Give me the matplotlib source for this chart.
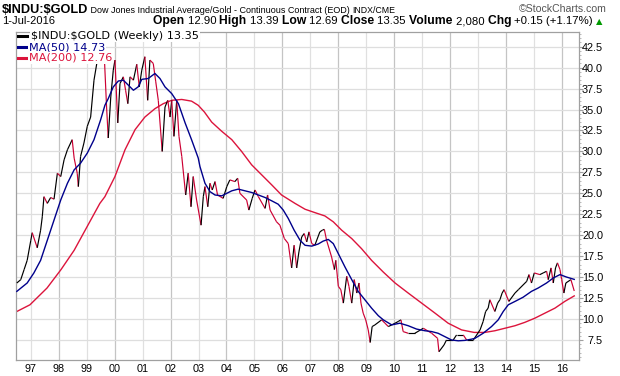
import numpy as np
import matplotlib.pyplot as plt
from matplotlib.collections import LineCollection
from matplotlib.lines import Line2D

# ----- Data -----
price_t = [1996.50, 1996.64, 1996.76, 1996.87, 1997.00, 1997.05, 1997.23, 1997.35, 1997.41, 1997.47,
           1997.59, 1997.71, 1997.83, 1997.95, 1998.07, 1998.19, 1998.31, 1998.48, 1998.55, 1998.66,
           1998.70, 1998.78, 1998.90, 1999.02, 1999.14, 1999.26, 1999.38, 1999.47, 1999.56, 1999.62,
           1999.71, 1999.77, 1999.86, 1999.95, 2000.01, 2000.11, 2000.19, 2000.31, 2000.39, 2000.47,
           2000.55, 2000.67, 2000.79, 2000.88, 2000.97, 2001.08, 2001.18, 2001.26, 2001.38, 2001.47,
           2001.56, 2001.70, 2001.80, 2001.90, 2001.98, 2002.04, 2002.12, 2002.22, 2002.30, 2002.40,
           2002.54, 2002.63, 2002.73, 2002.81, 2002.93, 2003.09, 2003.17, 2003.23, 2003.33, 2003.41,
           2003.49, 2003.59, 2003.68, 2003.88, 2004.01, 2004.12, 2004.30, 2004.40, 2004.48, 2004.72,
           2004.80, 2004.92, 2005.02, 2005.14, 2005.38, 2005.47, 2005.56, 2005.79, 2005.91, 2005.97,
           2006.07, 2006.21, 2006.33, 2006.42, 2006.51, 2006.59, 2006.69, 2006.78, 2006.87, 2006.95,
           2007.05, 2007.16, 2007.34, 2007.43, 2007.50, 2007.58, 2007.76, 2007.86, 2007.91, 2008.00,
           2008.09, 2008.18, 2008.30, 2008.38, 2008.48, 2008.57, 2008.66, 2008.74, 2008.81, 2008.89,
           2008.98, 2009.07, 2009.14, 2009.21, 2009.31, 2009.55, 2009.67, 2009.79, 2010.03, 2010.14,
           2010.24, 2010.32, 2010.50, 2010.74, 2011.04, 2011.34, 2011.55, 2011.60, 2011.78, 2011.87,
           2012.11, 2012.23, 2012.47, 2012.59, 2012.83, 2013.07, 2013.18, 2013.27, 2013.36, 2013.42,
           2013.60, 2013.70, 2013.78, 2013.86, 2013.93, 2014.10, 2014.32, 2014.44, 2014.74, 2014.82,
           2014.91, 2015.01, 2015.21, 2015.33, 2015.45, 2015.51, 2015.61, 2015.69, 2015.77, 2015.84,
           2015.93, 2015.99, 2016.07, 2016.14, 2016.32, 2016.44]
price_v = [14.3, 14.7, 15.9, 17.0, 19.4, 20.3, 18.5, 20.6, 22.2, 24.6,
           23.8, 24.5, 24.3, 27.4, 27.0, 29.0, 30.2, 31.4, 29.2, 27.4,
           25.8, 29.4, 31.0, 33.0, 34.1, 38.5, 40.9, 42.9, 43.1, 42.0,
           35.3, 31.6, 36.5, 39.7, 40.9, 33.4, 38.1, 38.9, 37.3, 35.7,
           38.9, 38.5, 40.4, 37.7, 39.7, 41.3, 36.1, 40.9, 40.5, 38.3,
           36.1, 30.0, 35.3, 36.1, 34.1, 36.1, 31.8, 36.1, 31.8, 29.4,
           24.8, 27.4, 23.4, 27.0, 24.2, 21.2, 24.6, 25.8, 23.4, 26.2,
           25.4, 26.4, 24.8, 24.4, 25.8, 26.6, 26.4, 26.8, 25.0, 24.2,
           23.0, 24.4, 25.4, 24.6, 23.2, 24.8, 23.0, 21.6, 21.2, 20.6,
           19.6, 19.0, 16.1, 18.8, 16.1, 18.0, 19.8, 20.2, 19.2, 20.4,
           19.0, 18.8, 20.4, 20.6, 20.7, 19.4, 17.4, 15.9, 17.0, 13.9,
           13.5, 11.9, 15.1, 13.9, 11.9, 14.7, 13.1, 14.3, 11.9, 10.7,
           9.9, 8.7, 7.2, 9.1, 9.3, 9.9, 9.5, 9.1, 9.5, 9.7,
           9.9, 8.5, 8.3, 8.3, 8.9, 8.3, 7.7, 6.1, 6.9, 7.5,
           7.5, 8.1, 8.1, 7.5, 7.5, 8.7, 9.7, 10.9, 11.3, 12.3,
           10.9, 11.9, 12.3, 13.1, 13.5, 12.1, 13.1, 13.5, 14.5, 15.3,
           14.3, 15.5, 15.3, 15.5, 15.7, 14.7, 16.1, 14.3, 16.1, 16.7,
           15.9, 14.7, 13.1, 14.3, 14.7, 13.35]

ma50_t = [1996.50, 1996.87, 1997.11, 1997.35, 1997.59, 1997.83, 1998.07, 1998.31, 1998.55, 1998.78,
          1999.02, 1999.26, 1999.50, 1999.65, 1999.77, 1999.95, 2000.13, 2000.31, 2000.49, 2000.67,
          2000.84, 2000.97, 2001.20, 2001.44, 2001.62, 2001.80, 2002.04, 2002.28, 2002.52, 2002.75,
          2002.99, 2003.05, 2003.23, 2003.41, 2003.59, 2003.83, 2004.01, 2004.19, 2004.42, 2004.66,
          2004.90, 2005.14, 2005.38, 2005.62, 2005.85, 2006.03, 2006.21, 2006.42, 2006.63, 2006.81,
          2007.05, 2007.28, 2007.46, 2007.64, 2007.82, 2008.00, 2008.24, 2008.48, 2008.71, 2008.95,
          2009.19, 2009.43, 2009.61, 2009.91, 2010.20, 2010.50, 2010.80, 2011.10, 2011.34, 2011.57,
          2011.81, 2012.05, 2012.29, 2012.53, 2012.77, 2012.89, 2013.18, 2013.48, 2013.72, 2013.90,
          2014.08, 2014.32, 2014.61, 2014.91, 2015.15, 2015.45, 2015.69, 2015.93, 2016.17, 2016.44]
ma50_v = [13.3, 14.3, 15.5, 17.0, 19.4, 21.8, 24.2, 26.2, 27.8, 28.6,
          29.8, 31.4, 33.8, 35.5, 36.3, 37.7, 38.4, 38.5, 37.9, 37.3,
          37.7, 38.6, 38.7, 39.3, 38.7, 37.7, 36.9, 35.7, 33.4, 31.4,
          29.2, 28.2, 26.2, 25.2, 24.8, 24.7, 25.0, 25.3, 25.5, 25.3,
          25.1, 24.8, 24.5, 24.1, 23.7, 23.0, 22.0, 20.6, 19.4, 18.8,
          18.7, 18.95, 19.3, 19.5, 19.0, 17.8, 16.2, 14.7, 13.3, 12.3,
          11.3, 10.4, 9.9, 9.3, 9.5, 9.2, 8.8, 8.6, 8.5, 8.3,
          7.9, 7.5, 7.4, 7.45, 7.6, 7.7, 8.3, 9.1, 9.9, 10.9,
          11.7, 12.1, 12.6, 13.3, 13.7, 14.3, 14.9, 15.3, 15.0, 14.73]

ma200_t = [1996.50, 1996.97, 1997.58, 1998.08, 1998.55, 1999.01, 1999.47, 1999.65, 2000.01, 2000.37,
           2000.73, 2001.08, 2001.44, 2001.74, 2002.04, 2002.40, 2002.75, 2002.99, 2003.21, 2003.47,
           2003.83, 2004.19, 2004.54, 2004.90, 2005.26, 2005.62, 2005.97, 2006.45, 2006.81, 2007.16,
           2007.52, 2007.82, 2008.12, 2008.48, 2008.83, 2009.19, 2009.61, 2010.03, 2010.50, 2010.98,
           2011.46, 2011.93, 2012.41, 2012.86, 2013.24, 2013.60, 2013.96, 2014.32, 2014.67, 2015.03,
           2015.39, 2015.75, 2016.10, 2016.44]
ma200_v = [10.9, 11.7, 13.7, 15.9, 18.2, 21.0, 23.8, 24.6, 27.0, 30.2,
           32.6, 34.1, 35.1, 35.7, 36.1, 36.2, 36.0, 35.5, 34.7, 33.5,
           32.4, 31.4, 30.0, 28.4, 27.2, 26.0, 24.8, 23.8, 23.1, 22.7,
           22.3, 21.6, 20.6, 19.6, 18.4, 17.0, 15.6, 14.3, 13.1, 11.9,
           10.7, 9.5, 8.7, 8.4, 8.4, 8.6, 8.9, 9.2, 9.6, 10.1,
           10.7, 11.3, 12.1, 12.76]

years = list(range(1997, 2017))
year_labels = ["97", "98", "99", "00", "01", "02", "03", "04", "05", "06",
               "07", "08", "09", "10", "11", "12", "13", "14", "15", "16"]
y_ticks = [7.5, 10.0, 12.5, 15.0, 17.5, 20.0, 22.5, 25.0, 27.5, 30.0,
           32.5, 35.0, 37.5, 40.0, 42.5]

UP = "black"
DOWN = "#cc0033"
MA50_C = "#00008b"
MA200_C = "#dc143c"
W, H = 620, 376
SANS = ["Liberation Sans", "DejaVu Sans"]

# ----- Figure -----
fig = plt.figure(figsize=(W / 100, H / 100), dpi=100)
ax = fig.add_axes([16 / W, 1 - 360 / H, (579 - 16) / W, (360 - 32) / H])
ax.set_xlim(1996.47, 2016.61)
ax.set_ylim(5.11, 44.25)

# grid: every year vertically (even years darker), every 2.5 horizontally
for yr in years:
    ax.axvline(yr, color="#c4c4c4" if yr % 2 == 0 else "#e0e0e0", lw=0.9, zorder=0)
for v in y_ticks:
    ax.axhline(v, color="#dedede", lw=0.9, zorder=0)

# price line: black when rising, red when falling
pts = np.column_stack([price_t, price_v])
segs = np.stack([pts[:-1], pts[1:]], axis=1)
cols = [DOWN if b < a else UP for a, b in zip(price_v[:-1], price_v[1:])]
ax.add_collection(LineCollection(segs, colors=cols, linewidths=0.85, zorder=3))

ax.plot(ma50_t, ma50_v, color=MA50_C, lw=1.0, zorder=4)
ax.plot(ma200_t, ma200_v, color=MA200_C, lw=1.0, zorder=2)

# axes cosmetics
for s in ax.spines.values():
    s.set_color("#a0a0a0")
    s.set_linewidth(0.9)
ax.set_xticks(years)
ax.set_xticklabels(year_labels, fontsize=7.8, family=SANS)
ax.tick_params(axis="x", length=0, pad=3)
ax.yaxis.tick_right()
ax.set_yticks(y_ticks)
ax.set_yticklabels([f"{v:.1f}" for v in y_ticks], fontsize=7.8, family=SANS)
ax.set_yticks(np.arange(5.5, 44.1, 0.5), minor=True)
ax.tick_params(axis="y", which="major", length=3, color="#a0a0a0", pad=14.3)
ax.tick_params(axis="y", which="minor", length=1.5, color="#b0b0b0")
for lbl in ax.get_yticklabels():
    lbl.set_ha("right")

# ----- Header -----
renderer = fig.canvas.get_renderer()


def put_row(pieces, x_px, y_px):
    x = x_px
    for s, size, weight, color, fam in pieces:
        t = fig.text(x / W, 1 - y_px / H, s, fontsize=size, fontweight=weight,
                     color=color, family=fam, va="baseline", parse_math=False)
        x += t.get_window_extent(renderer).width
    return x


put_row([("$INDU:$GOLD", 9.2, "bold", "black", SANS),
         (" Dow Jones Industrial Average/Gold - Continuous Contract (EOD) ", 6.5, "normal", "black", SANS),
         ("INDX/CME", 6.3, "normal", "black", SANS)], 2, 13)
fig.text(607 / W, 1 - 12 / H, "\u00a9StockCharts.com", fontsize=7.6, color="#555555",
         family=SANS, ha="right", va="baseline")

fig.text(2 / W, 1 - 24 / H, "1-Jul-2016", fontsize=8, family=SANS, va="baseline")
put_row([("Open ", 8.7, "bold", "black", SANS), ("12.90 ", 8.2, "normal", "black", SANS),
         ("High ", 8.7, "bold", "black", SANS), ("13.39 ", 8.2, "normal", "black", SANS),
         ("Low ", 8.7, "bold", "black", SANS), ("12.69 ", 8.2, "normal", "black", SANS),
         ("Close ", 8.7, "bold", "black", SANS), ("13.35 ", 8.2, "normal", "black", SANS),
         ("Volume ", 8.7, "bold", "black", SANS), ("2,080 ", 8.2, "normal", "black", SANS),
         ("Chg ", 8.7, "bold", "black", SANS), ("+0.15 (+1.17%) ", 8.2, "normal", "black", SANS),
         ("\u25b2", 6, "normal", "#009900", ["DejaVu Sans"])], 153, 24)

# ----- Legend (top-left inside chart) -----
legend_rows = [("$INDU:$GOLD (Weekly) 13.35", UP, 36, 31),
               ("MA(50) 14.73", MA50_C, 47, 29),
               ("MA(200) 12.76", MA200_C, 58, 29)]
for label, color, y, x0 in legend_rows:
    fig.add_artist(Line2D([18 / W, 27 / W], [1 - y / H, 1 - y / H], color=color, lw=2.2))
    fig.text(x0 / W, 1 - y / H, label, fontsize=8.1, color=color, family="DejaVu Sans",
             va="center", parse_math=False,
             bbox=dict(facecolor="white", edgecolor="none", pad=0.6))

fig.savefig("out.png", dpi=100)
